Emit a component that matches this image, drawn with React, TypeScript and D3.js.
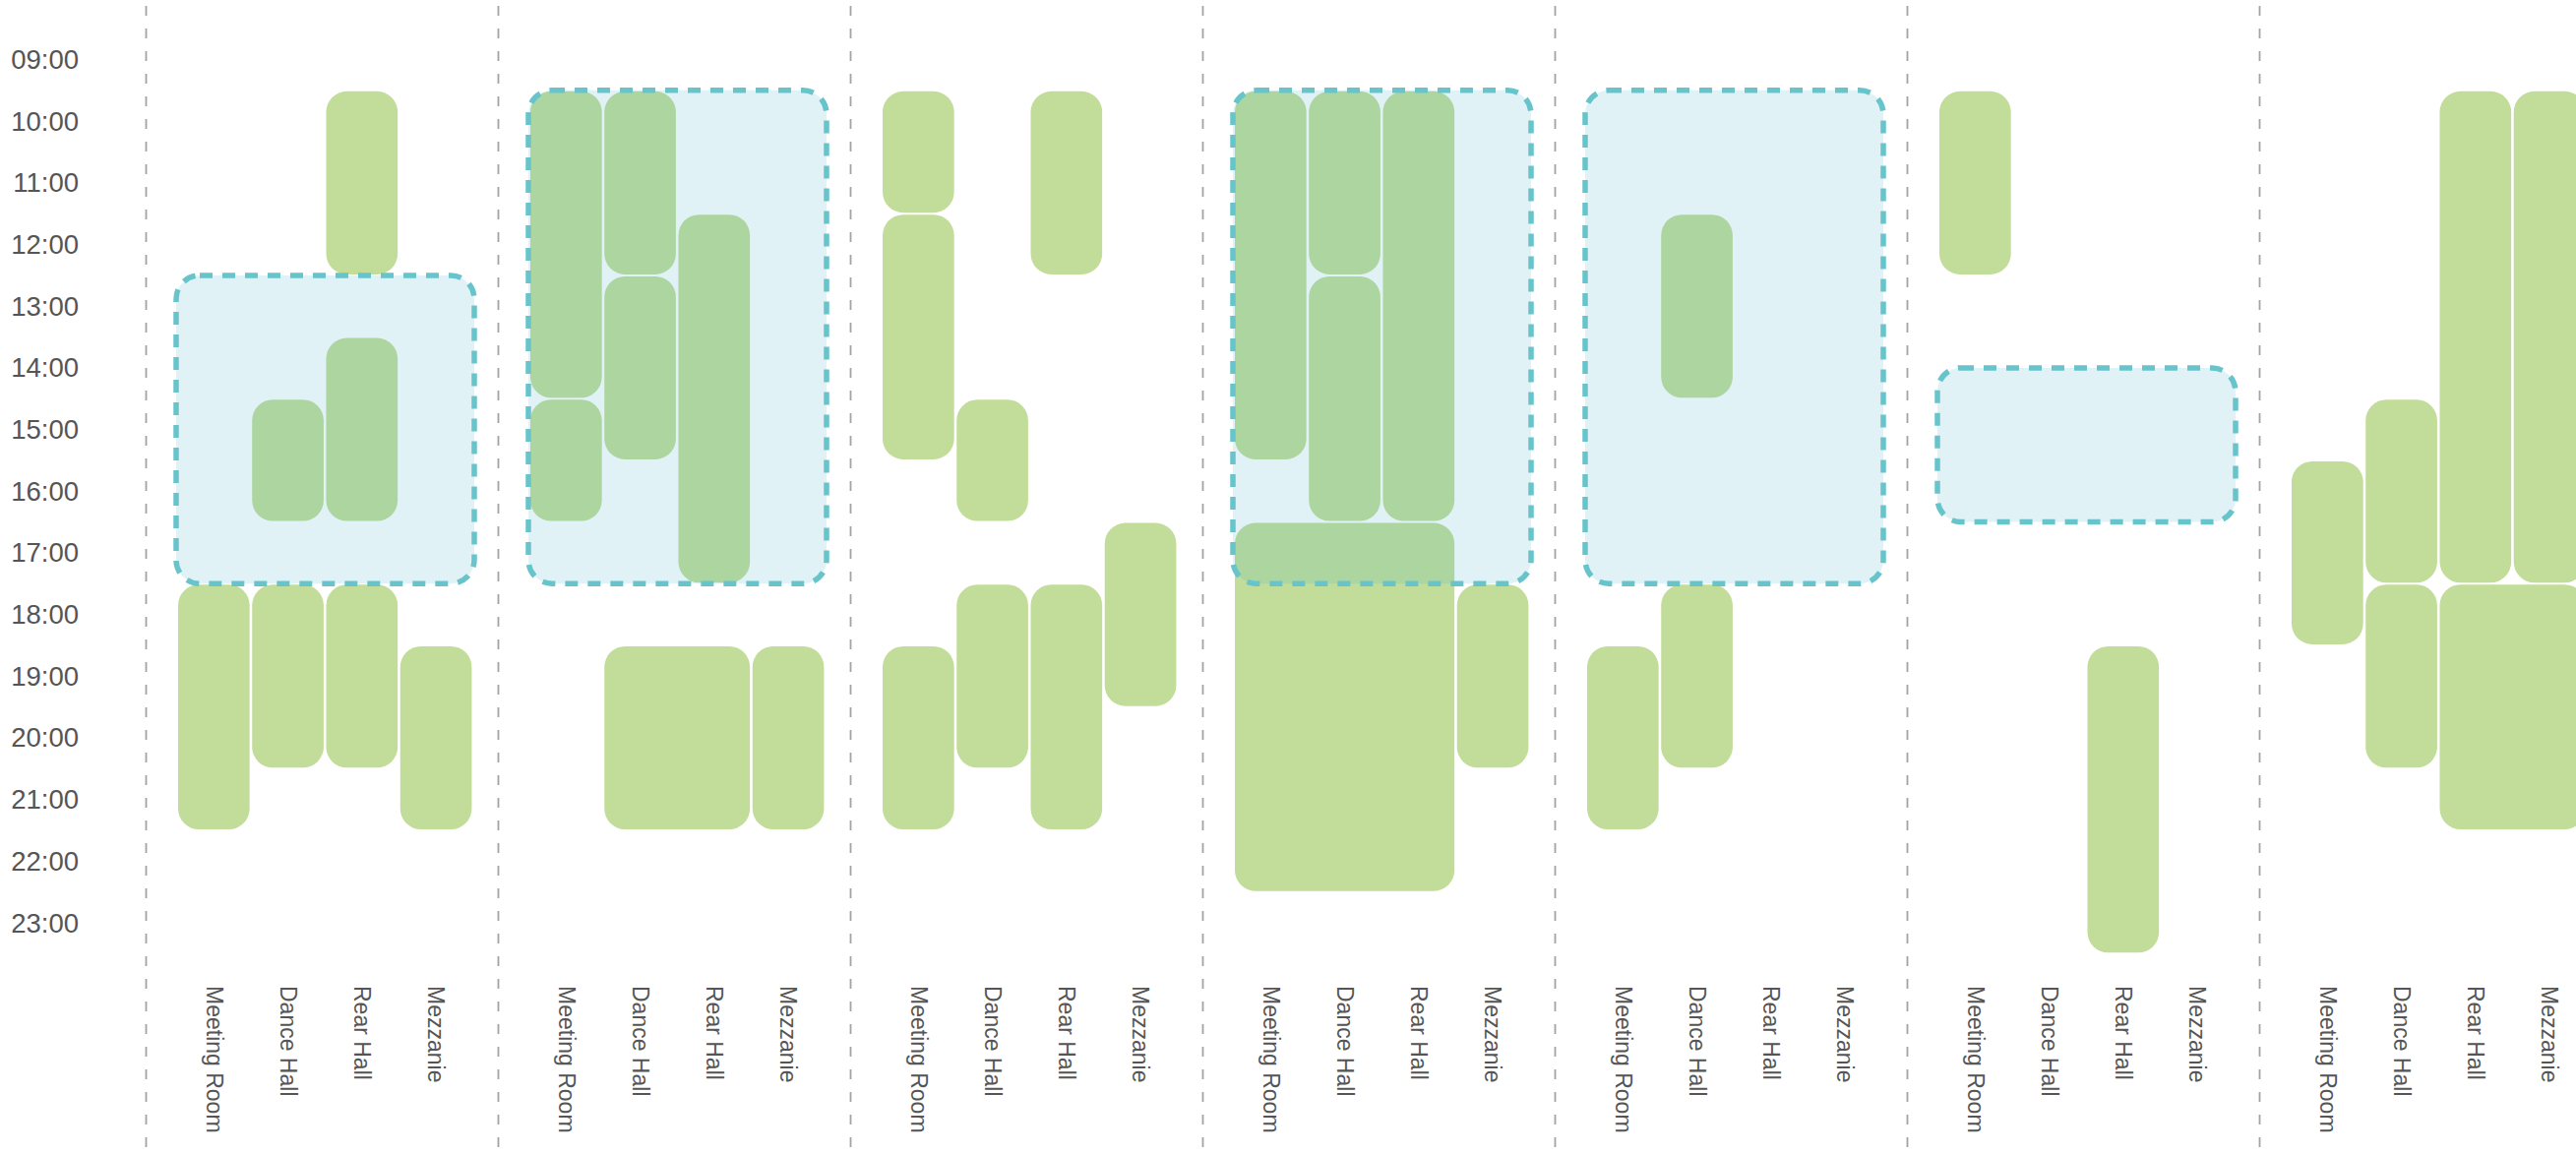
import React from 'react';
import * as d3 from 'd3';

// ---- data ----
const days = [0, 1, 2, 3, 4, 5, 6];
const rooms = ['Meeting Room', 'Dance Hall', 'Rear Hall', 'Mezzanie'];
const hourTicks = ['09:00', '10:00', '11:00', '12:00', '13:00', '14:00', '15:00', '16:00', '17:00', '18:00', '19:00', '20:00', '21:00', '22:00', '23:00'];

// [day, roomIndex, roomSpan, startHour, endHour]
const bookings: [number, number, number, number, number][] = [
  [0, 2, 1, 9.5, 12.5],
  [0, 1, 1, 14.5, 16.5],
  [0, 2, 1, 13.5, 16.5],
  [0, 0, 1, 17.5, 21.5],
  [0, 1, 1, 17.5, 20.5],
  [0, 2, 1, 17.5, 20.5],
  [0, 3, 1, 18.5, 21.5],
  [1, 0, 1, 9.5, 14.5],
  [1, 0, 1, 14.5, 16.5],
  [1, 1, 1, 9.5, 12.5],
  [1, 1, 1, 12.5, 15.5],
  [1, 2, 1, 11.5, 17.5],
  [1, 1, 2, 18.5, 21.5],
  [1, 3, 1, 18.5, 21.5],
  [2, 0, 1, 9.5, 11.5],
  [2, 0, 1, 11.5, 15.5],
  [2, 2, 1, 9.5, 12.5],
  [2, 1, 1, 14.5, 16.5],
  [2, 0, 1, 18.5, 21.5],
  [2, 1, 1, 17.5, 20.5],
  [2, 2, 1, 17.5, 21.5],
  [2, 3, 1, 16.5, 19.5],
  [3, 0, 1, 9.5, 15.5],
  [3, 1, 1, 9.5, 12.5],
  [3, 1, 1, 12.5, 16.5],
  [3, 2, 1, 9.5, 16.5],
  [3, 0, 3, 16.5, 22.5],
  [3, 3, 1, 17.5, 20.5],
  [4, 1, 1, 11.5, 14.5],
  [4, 0, 1, 18.5, 21.5],
  [4, 1, 1, 17.5, 20.5],
  [5, 0, 1, 9.5, 12.5],
  [5, 2, 1, 18.5, 23.5],
  [6, 0, 1, 15.5, 18.5],
  [6, 1, 1, 14.5, 17.5],
  [6, 1, 1, 17.5, 20.5],
  [6, 2, 1, 9.5, 17.5],
  [6, 3, 1, 9.5, 17.5],
  [6, 2, 2, 17.5, 21.5],
];

// [day, startHour, endHour] highlighted periods
const highlights: [number, number, number][] = [
  [0, 12.5, 17.5],
  [1, 9.5, 17.5],
  [3, 9.5, 17.5],
  [4, 9.5, 17.5],
  [5, 14, 16.5],
];

const W = 2618;
const H = 1173;
const FONT = '"Liberation Sans", Arial, Helvetica, sans-serif';
const BAR_COLOR = '#c2dc99';
const BOX_FILL = 'rgba(73,179,196,0.17)';
const BOX_STROKE = '#68c4cb';
const TEXT_COLOR = '#555555';

export default function App() {
  const dayBand = d3
    .scaleBand<number>()
    .domain(days)
    .range([180, 2629])
    .paddingInner(57 / 358)
    .paddingOuter(0)
    .align(0);
  const roomBand = d3.scaleBand<string>().domain(rooms).range([0, dayBand.bandwidth()]);
  const hourValues = hourTicks.map((t) => +t.slice(0, 2));
  const y = d3.scaleLinear().domain([9, 23]).range([60.5, 938]);
  const gapHalf = (dayBand.step() - dayBand.bandwidth()) / 2;

  return (
    <svg
      width={W}
      height={H}
      style={{ position: 'absolute', left: 0, top: 0, background: '#fff' }}
      fontFamily={FONT}
    >
      <rect x={0} y={0} width={W} height={H} fill="#fff" />
      {/* separators */}
      {days.map((d) => (
        <line
          key={'sep' + d}
          x1={(dayBand(d) as number) - gapHalf - 3}
          x2={(dayBand(d) as number) - gapHalf - 3}
          y1={6}
          y2={H}
          stroke="#a3a3a3"
          strokeWidth={1.8}
          strokeDasharray="10 13"
        />
      ))}
      {/* y axis labels */}
      {hourTicks.map((t, i) => (
        <text
          key={t}
          x={80}
          y={y(hourValues[i])}
          textAnchor="end"
          dominantBaseline="central"
          fontSize={27.5}
          fill={TEXT_COLOR}
        >
          {t}
        </text>
      ))}
      {/* bookings */}
      {bookings.map(([d, r, span, s, e], i) => {
        const x0 = (dayBand(d) as number) + (roomBand(rooms[r]) as number);
        return (
          <rect
            key={'b' + i}
            x={x0 + 1}
            y={y(s) + 1}
            width={roomBand.step() * span - 2.6}
            height={y(e) - y(s) - 2}
            rx={21}
            ry={21}
            fill={BAR_COLOR}
          />
        );
      })}
      {/* highlight boxes */}
      {highlights.map(([d, s, e], i) => (
        <rect
          key={'h' + i}
          x={(dayBand(d) as number) - 1}
          y={y(s)}
          width={dayBand.bandwidth() + 2}
          height={y(e) - y(s)}
          rx={24}
          ry={24}
          fill={BOX_FILL}
          stroke={BOX_STROKE}
          strokeWidth={5.5}
          strokeDasharray="13 10"
        />
      ))}
      {/* room labels */}
      {days.map((d) =>
        rooms.map((room) => {
          const cx = (dayBand(d) as number) + (roomBand(room) as number) + roomBand.bandwidth() / 2;
          return (
            <text
              key={'l' + d + room}
              transform={`translate(${cx},1002) rotate(90)`}
              textAnchor="start"
              dominantBaseline="central"
              fontSize={23}
              fill={TEXT_COLOR}
            >
              {room}
            </text>
          );
        })
      )}
    </svg>
  );
}
